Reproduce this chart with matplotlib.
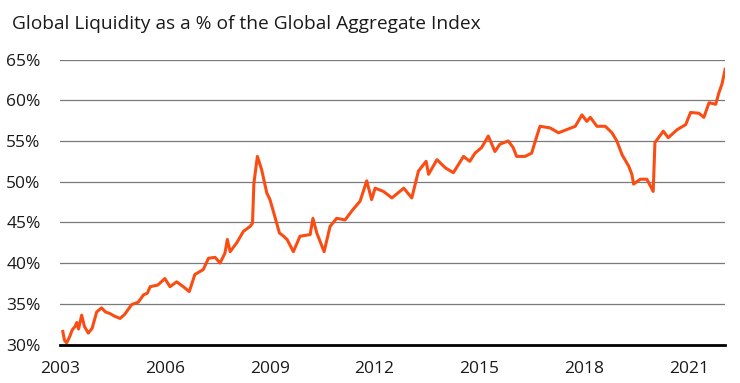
#!/usr/bin/env python3
"""
Global liquidity as a % of the Global Aggregate Index
-> out.png (740x383)
"""

import matplotlib
matplotlib.use("Agg")
import matplotlib.pyplot as plt


# ─────────────────────────────────────────────────────────────
# data (decimal year, % of index)
# ─────────────────────────────────────────────────────────────
years = [
    2003.08, 2003.13, 2003.19, 2003.28, 2003.35, 2003.43, 2003.48, 2003.53,
    2003.62, 2003.70, 2003.81, 2003.92, 2004.05, 2004.19, 2004.30, 2004.43,
    2004.55, 2004.72, 2004.85, 2005.05, 2005.24, 2005.39, 2005.50, 2005.58,
    2005.80, 2006.00, 2006.15, 2006.34, 2006.53, 2006.70, 2006.86, 2007.10,
    2007.25, 2007.44, 2007.58, 2007.72, 2007.79, 2007.87, 2008.06, 2008.25,
    2008.44, 2008.51, 2008.55, 2008.65, 2008.77, 2008.92, 2009.01, 2009.15,
    2009.28, 2009.40, 2009.50, 2009.68, 2009.87, 2010.16, 2010.24, 2010.35,
    2010.56, 2010.73, 2010.92, 2011.16, 2011.39, 2011.59, 2011.78, 2011.92,
    2012.02, 2012.26, 2012.50, 2012.84, 2013.07, 2013.26, 2013.48, 2013.55,
    2013.79, 2014.03, 2014.26, 2014.55, 2014.73, 2014.88, 2015.07, 2015.26,
    2015.45, 2015.59, 2015.83, 2015.97, 2016.07, 2016.31, 2016.50, 2016.65,
    2016.74, 2017.03, 2017.27, 2017.51, 2017.75, 2017.94, 2018.08, 2018.18,
    2018.37, 2018.61, 2018.80, 2018.94, 2019.09, 2019.28, 2019.37, 2019.42,
    2019.61, 2019.80, 2019.98, 2020.03, 2020.27, 2020.41, 2020.67, 2020.91,
    2021.05, 2021.29, 2021.43, 2021.58, 2021.77, 2021.86, 2021.95, 2022.00,
    2022.04,
]
liquidity_pct = [
    31.6, 30.5, 30.2, 31.0, 31.8, 32.2, 32.7, 31.9,
    33.6, 32.2, 31.4, 32.0, 34.0, 34.5, 34.0, 33.8,
    33.5, 33.2, 33.7, 34.9, 35.2, 36.1, 36.3, 37.1,
    37.3, 38.1, 37.1, 37.7, 37.1, 36.5, 38.6, 39.2,
    40.6, 40.7, 40.0, 41.2, 42.9, 41.4, 42.5, 43.9,
    44.5, 44.9, 49.8, 53.1, 51.5, 48.6, 47.8, 45.7,
    43.7, 43.3, 42.9, 41.4, 43.3, 43.5, 45.5, 43.7,
    41.4, 44.5, 45.5, 45.3, 46.6, 47.6, 50.1, 47.8,
    49.2, 48.8, 48.0, 49.2, 48.0, 51.3, 52.5, 50.9,
    52.7, 51.7, 51.1, 53.1, 52.5, 53.5, 54.2, 55.6,
    53.7, 54.6, 55.0, 54.2, 53.1, 53.1, 53.5, 55.6,
    56.8, 56.6, 56.0, 56.4, 56.8, 58.2, 57.4, 57.9,
    56.8, 56.8, 56.0, 55.0, 53.3, 51.9, 50.9, 49.7,
    50.3, 50.3, 48.8, 54.8, 56.2, 55.4, 56.4, 57.0,
    58.5, 58.4, 57.9, 59.7, 59.5, 60.9, 62.0, 63.0,
    63.8,
]

x_ticks = [2003, 2006, 2009, 2012, 2015, 2018, 2021]
y_ticks = [30, 35, 40, 45, 50, 55, 60, 65]

TITLE = "Global Liquidity as a % of the Global Aggregate Index"
LINE_COLOR = "#fa4d14"


# ─────────────────────────────────────────────────────────────
def main():
    plt.rcParams["font.family"] = ["Open Sans", "DejaVu Sans"]

    fig = plt.figure(figsize=(7.4, 3.83), dpi=100)
    ax = fig.add_axes([0.0811, 0.1005, 0.8993, 0.7441])

    # ── gridlines (no 30% line: the black baseline sits there)
    for y in y_ticks[1:]:
        ax.axhline(y, color="#7a7a7a", lw=0.9, zorder=1)

    ax.plot(years, liquidity_pct, color=LINE_COLOR, lw=2.2,
            solid_joinstyle="round", zorder=3)

    ax.set_xlim(2003.0, 2022.05)
    ax.set_ylim(30, 65)
    ax.set_xticks(x_ticks)
    ax.set_yticks(y_ticks)
    ax.set_yticklabels([f"{v}%" for v in y_ticks])

    for side in ("top", "right", "left"):
        ax.spines[side].set_visible(False)
    ax.spines["bottom"].set_color("black")
    ax.spines["bottom"].set_linewidth(2.0)
    ax.spines["bottom"].set_zorder(4)

    ax.tick_params(axis="both", length=0, labelsize=12.5, colors="#1a1a1a")
    ax.tick_params(axis="y", pad=14)
    ax.tick_params(axis="x", pad=12)

    fig.text(0.016, 0.938, TITLE, fontsize=13.8, color="#1a1a1a",
             ha="left", va="center")

    fig.savefig("out.png", dpi=100, facecolor="white")
    plt.close(fig)


if __name__ == "__main__":
    main()
